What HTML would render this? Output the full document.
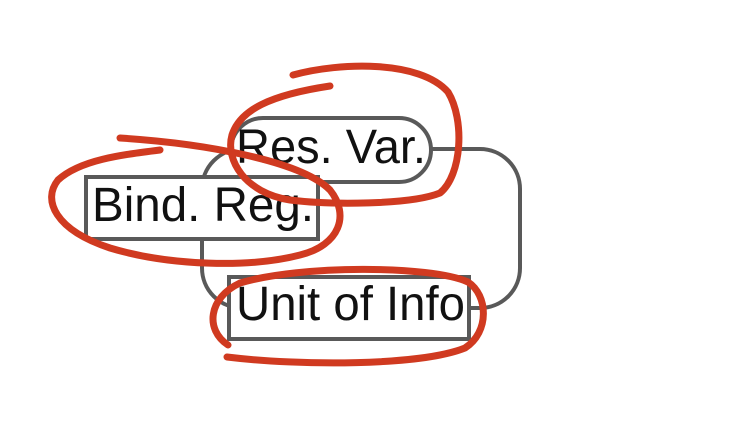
<!DOCTYPE html>
<html><head><style>
html,body{margin:0;padding:0;background:#fff;}
svg{display:block;}
text{font-family:"Liberation Sans",Arial,sans-serif;font-size:48px;fill:#111;}
</style></head><body>
<svg width="756" height="448" viewBox="0 0 756 448" xmlns="http://www.w3.org/2000/svg">
<rect x="202" y="149" width="318" height="159" rx="40" ry="40" fill="none" stroke="#595959" stroke-width="4"/>
<rect x="231" y="118" width="200" height="64" rx="32" ry="32" fill="#fff" stroke="#595959" stroke-width="4"/>
<text x="236" y="163" textLength="190" lengthAdjust="spacingAndGlyphs">Res. Var.</text>
<rect x="86" y="177" width="232" height="62" fill="#fff" stroke="#595959" stroke-width="4"/>
<text x="92" y="221" textLength="222" lengthAdjust="spacingAndGlyphs">Bind. Reg.</text>
<rect x="229" y="277" width="240" height="62" fill="#fff" stroke="#595959" stroke-width="4"/>
<text x="236" y="320" textLength="229" lengthAdjust="spacingAndGlyphs">Unit of Info</text>
<g fill="none" stroke="#d03a20" stroke-width="7" stroke-linecap="round" stroke-linejoin="round">
<path d="M293,75 C340,62 420,60 448,92 C465,120 462,175 440,193 C410,205 330,205 290,200 C245,193 225,160 232,135 C240,110 270,95 330,86"/>
<path d="M120,138 C200,143 300,160 330,190 C350,215 340,245 300,255 C250,268 170,266 110,248 C55,230 42,200 58,180 C80,160 120,155 160,150"/>
<path d="M227,357 C300,366 420,366 465,348 C490,332 488,295 468,282 C430,265 300,265 240,283 C208,298 205,330 228,345"/>
</g>
</svg>
</body></html>
